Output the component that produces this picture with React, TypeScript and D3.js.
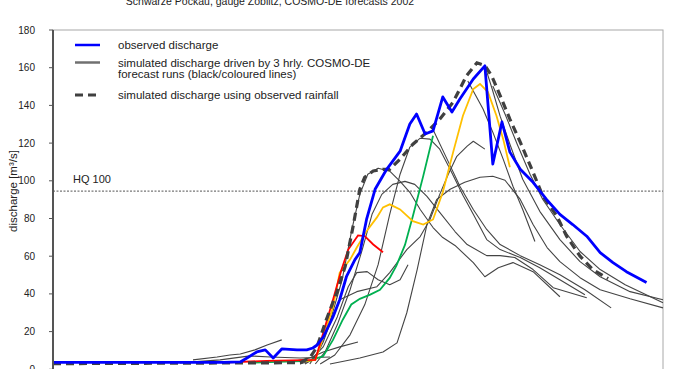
import React from "react";
import * as d3 from "d3";

type P = [number, number];

// time axis: hours since start of plotted period; values in m³/s
const observed: P[] = [
  [0, 3.7], [27.9, 3.7], [30.7, 3.9], [31.8, 6.0], [33.4, 9.2], [34.8, 10.3], [36.1, 6.0], [37.5, 10.8],
  [40.0, 10.3], [41.6, 10.3], [42.6, 11.3], [43.3, 12.9], [44.3, 17.0], [45.9, 27.8], [47.0, 36.9],
  [48.1, 49.1], [49.5, 58.2], [50.3, 61.9], [51.4, 79.5], [52.8, 95.5], [54.7, 106.1], [56.9, 115.7],
  [58.5, 130.1], [59.6, 135.4], [61.0, 124.8], [62.3, 126.5], [63.9, 144.5], [65.4, 136.5], [66.7, 143.4],
  [68.9, 154.0], [70.8, 161.0], [72.1, 108.9], [73.6, 131.2], [74.9, 115.2], [76.6, 106.1], [78.7, 99.2],
  [80.9, 90.1], [83.1, 82.2], [85.2, 76.8], [87.5, 70.6], [89.7, 61.9], [91.8, 56.6], [94.0, 51.8], [97.3, 46.1],
];

const simObservedRain: P[] = [
  [0, 3.0], [40.5, 3.5], [42.1, 6.0], [43.3, 12.0], [44.8, 26.3], [46.5, 40.6], [47.9, 54.6], [49.2, 75.9],
  [50.3, 95.5], [51.1, 101.9], [52.5, 105.2], [54.1, 106.1], [55.2, 106.1], [56.9, 111.5], [59.0, 119.4],
  [61.3, 125.8], [63.4, 132.7], [65.6, 141.8], [67.8, 155.8], [69.5, 162.6], [70.8, 161.1], [71.9, 155.8],
  [73.3, 145.2], [74.9, 132.7], [76.6, 120.5], [78.7, 104.5], [80.3, 91.9], [82.6, 81.3], [84.2, 70.6],
  [86.4, 60.0], [88.5, 52.9], [91.0, 48.1],
];

const forecastRed: P[] = [
  [27.7, 3.5], [35.0, 4.5], [43.0, 5.0], [44.3, 19.3], [45.9, 36.9], [47.3, 52.9], [48.4, 63.5],
  [50.0, 71.0], [51.1, 70.6], [52.5, 66.2], [54.1, 62.1],
];

const forecastYellow: P[] = [
  [40.5, 4.0], [43.0, 5.0], [44.3, 17.0], [45.9, 33.0], [47.0, 51.3], [48.7, 58.2], [49.8, 64.6],
  [51.4, 73.3], [53.1, 80.6], [54.1, 85.9], [55.2, 87.5], [56.9, 84.8], [59.0, 78.6], [60.7, 76.8],
  [62.3, 79.5], [63.9, 93.9], [65.6, 115.2], [67.2, 134.5], [68.9, 148.7], [70.0, 151.4], [71.3, 147.1],
  [72.7, 134.5], [73.8, 122.1], [74.9, 107.2],
];

const forecastGreen: P[] = [
  [33.0, 3.5], [42.1, 4.5], [44.3, 7.0], [45.9, 15.6], [47.5, 26.3], [48.9, 34.4], [50.3, 37.4],
  [52.0, 39.6], [53.6, 42.2], [55.2, 48.5], [56.3, 55.0], [57.7, 66.0], [59.0, 81.3], [60.7, 102.6],
  [62.3, 123.9],
];

const forecastsBlack: P[][] = [
  [[22.95, 5.0], [26.9, 6.5], [29.0, 7.6], [30.7, 8.1], [33.1, 10.3], [35.1, 12.9], [37.5, 15.6]],
  [[20.8, 3.4], [27.4, 5.0], [32.3, 7.1], [35.6, 6.5], [40.5, 6.0], [45.4, 6.5]],
  [[38.9, 3.9], [42.1, 6.0], [44.3, 9.2], [47.0, 11.9], [50.0, 14.5]],
  [[40.5, 2.8], [42.1, 4.4], [44.3, 11.9], [46.6, 27.8], [48.4, 43.8], [49.8, 51.3], [51.5, 51.8],
   [53.3, 47.5], [55.2, 44.9], [56.9, 47.5], [58.2, 55.5]],
  [[41.3, 2.8], [43.0, 6.0], [44.3, 14.5], [45.9, 28.9], [47.0, 36.9], [49.8, 41.2], [53.1, 43.8],
   [55.2, 51.3], [58.0, 63.5], [60.2, 70.4], [61.8, 79.5], [63.4, 92.8], [64.8, 103.5], [66.2, 113.0],
   [67.9, 118.4], [68.9, 121.0], [70.8, 116.8]],
  [[42.1, 2.8], [43.4, 9.2], [45.4, 25.2], [47.4, 47.5], [49.0, 74.2], [50.3, 92.8], [51.6, 103.5],
   [53.3, 106.7], [55.2, 105.1], [56.9, 99.7], [58.5, 93.9], [60.2, 84.8], [62.3, 75.2], [63.9, 69.9],
   [65.9, 65.7], [68.9, 56.6], [70.8, 49.1], [73.0, 53.9], [75.4, 56.6], [78.7, 51.8], [83.1, 38.5]],
  [[43.0, 2.8], [44.6, 9.2], [46.6, 23.6], [48.7, 42.2], [50.7, 63.5], [52.3, 82.2], [53.9, 92.8],
   [55.7, 98.1], [57.7, 99.7], [59.3, 98.1], [61.3, 91.7], [63.4, 83.3], [65.9, 73.1], [67.9, 66.2],
   [71.1, 60.3], [73.3, 60.3], [75.7, 59.3], [78.7, 52.9], [82.0, 43.3], [87.5, 38.0]],
  [[43.8, 2.8], [46.2, 7.6], [48.7, 18.3], [51.1, 34.2], [53.3, 55.5], [55.2, 82.2], [56.9, 103.5],
   [58.5, 117.9], [60.2, 122.6], [61.8, 122.1], [63.4, 116.8], [65.1, 106.1], [67.2, 92.3], [68.9, 82.2],
   [71.1, 68.8], [73.3, 63.5], [76.6, 59.3], [79.8, 53.9], [83.1, 47.5], [87.2, 39.6]],
  [[45.4, 2.8], [50.3, 6.0], [54.1, 9.2], [56.4, 14.0], [58.0, 30.0], [59.7, 52.9], [61.3, 76.8],
   [62.9, 90.1], [65.1, 95.5], [67.5, 99.2], [70.0, 101.9], [72.1, 102.4], [74.1, 100.3], [76.6, 90.1],
   [78.7, 76.8], [81.0, 64.6], [83.1, 57.1], [86.4, 48.6], [89.7, 42.2], [94.6, 37.4], [100, 32.6]],
  [[62.1, 128.5], [64.6, 111.5], [66.7, 97.1], [68.9, 84.8], [71.1, 74.2], [73.3, 66.2], [76.6, 60.3],
   [79.8, 55.5], [83.1, 50.2], [87.2, 42.2], [91.5, 32.6]],
  [[68.0, 153.0], [70.5, 138.1], [72.1, 125.8], [73.8, 111.5], [75.4, 97.1], [77.0, 84.8], [79.0, 67.8]],
  [[70.8, 161.0], [72.0, 148.7], [73.3, 134.3], [74.9, 119.4], [77.0, 100.8], [79.8, 83.8], [83.1, 68.8],
   [86.4, 57.1], [89.7, 49.1], [94.6, 41.2], [100, 36.9]],
  [[72.1, 150.3], [74.1, 135.4], [76.1, 119.4], [78.2, 103.5], [80.3, 90.1], [83.1, 76.8], [86.4, 62.5],
   [89.7, 52.9], [93.8, 44.9], [100, 35.3]],
];

const hq100 = 94.5;
const yTicks = [0, 20, 40, 60, 80, 100, 120, 140, 160, 180];
const legendItems = [
  { label: ["observed discharge"], kind: "obs" },
  { label: ["simulated discharge driven by 3 hrly. COSMO-DE", "forecast runs (black/coloured lines)"], kind: "fc" },
  { label: ["simulated discharge using observed rainfall"], kind: "sim" },
];
const title = "Schwarze Pockau, gauge Zöblitz, COSMO-DE forecasts 2002";

export default function App() {
  const W = 677, H = 369;
  const left = 53, right = 663, top = 30, bottom = 369.3;
  const x = d3.scaleLinear().domain([0, 100]).range([left, right]);
  const y = d3.scaleLinear().domain([0, 180]).range([bottom, top]);
  const line = d3.line<P>().x((d) => x(d[0])).y((d) => y(d[1]));
  const font = "'Liberation Sans', Arial, sans-serif";

  const legendY = [45, 62.5, 95];

  return (
    <div style={{ position: "fixed", left: 0, top: 0 }}>
      <svg width={W} height={H} style={{ display: "block", background: "#fff" }} fontFamily={font}>
        <text x={270} y={5} fontSize={10.5} textAnchor="middle" fill="#222">{title}</text>
        <rect x={left} y={top} width={right - left} height={bottom - top + 5} fill="none" stroke="#a8a8a8" strokeWidth={1} />
        {/* HQ 100 */}
        <line x1={left} x2={right} y1={y(hq100)} y2={y(hq100)} stroke="#777" strokeWidth={1.2} strokeDasharray="2,1.5" />
        <text x={73} y={y(hq100) - 8} fontSize={11} fill="#222">HQ 100</text>
        {/* black forecasts */}
        {forecastsBlack.map((d, i) => (
          <path key={i} d={line(d) || ""} fill="none" stroke="#444" strokeWidth={1.1} strokeLinejoin="round" />
        ))}
        <path d={line(forecastGreen) || ""} fill="none" stroke="#00b050" strokeWidth={1.8} />
        <path d={line(forecastYellow) || ""} fill="none" stroke="#ffc000" strokeWidth={1.8} />
        <path d={line(forecastRed) || ""} fill="none" stroke="#ff0000" strokeWidth={1.8} />
        <path d={line(simObservedRain) || ""} fill="none" stroke="#404040" strokeWidth={3.2} strokeDasharray="8,5" />
        <path d={line(observed) || ""} fill="none" stroke="#0000ff" strokeWidth={2.8} strokeLinejoin="round" />
        {/* y axis */}
        <line x1={left} x2={left} y1={top} y2={bottom + 5} stroke="#555" strokeWidth={2} />
        {yTicks.map((t) => (
          <g key={t}>
            <line x1={left - 4} x2={left} y1={y(t)} y2={y(t)} stroke="#555" strokeWidth={1} />
            <text x={35} y={y(t) + 3.5} fontSize={10} textAnchor="end" fill="#222">{t}</text>
          </g>
        ))}
        <text transform={`translate(17,191) rotate(-90)`} fontSize={11.5} textAnchor="middle" fill="#222">
          discharge [m³/s]
        </text>
        {/* legend */}
        {legendItems.map((it, i) => (
          <g key={i}>
            {it.kind === "obs" && <line x1={75} x2={100} y1={legendY[i]} y2={legendY[i]} stroke="#0000ff" strokeWidth={2.5} />}
            {it.kind === "fc" && <line x1={75} x2={100} y1={legendY[i]} y2={legendY[i]} stroke="#707070" strokeWidth={2.5} />}
            {it.kind === "sim" && <line x1={75} x2={100} y1={legendY[i]} y2={legendY[i]} stroke="#404040" strokeWidth={3} strokeDasharray="8,5" />}
            {it.label.map((s, j) => (
              <text key={j} x={118} y={legendY[i] + 4 + j * 11} fontSize={11.5} fill="#222">{s}</text>
            ))}
          </g>
        ))}
      </svg>
    </div>
  );
}
